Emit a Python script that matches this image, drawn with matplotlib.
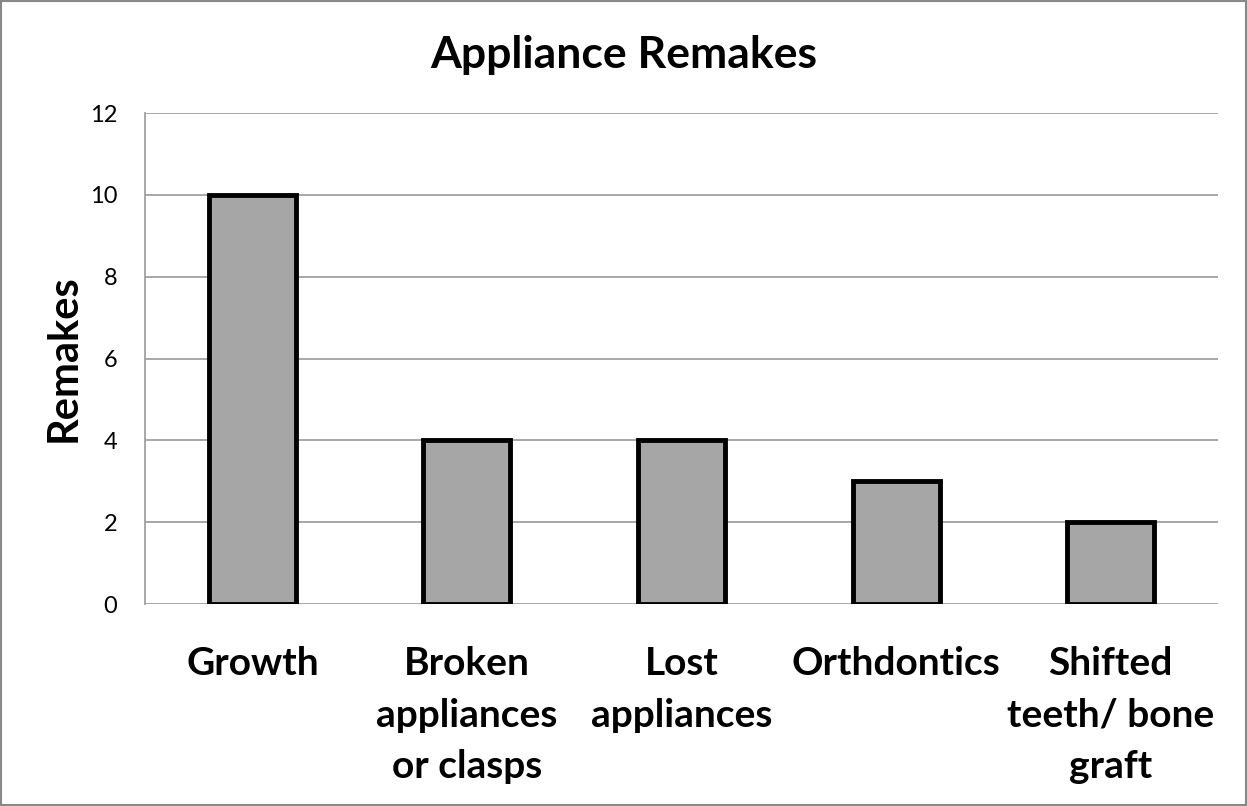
import matplotlib.pyplot as plt
from matplotlib.patches import Rectangle

# Chart data
categories = ["Growth", "Broken\nappliances\nor clasps", "Lost\nappliances",
              "Orthdontics", "Shifted\nteeth/ bone\ngraft"]
remakes = [10, 4, 4, 3, 2]
y_ticks = [0, 2, 4, 6, 8, 10, 12]

plt.rcParams['font.family'] = ['Lato', 'DejaVu Sans']

fig = plt.figure(figsize=(12.47, 8.06), dpi=100)
ax = fig.add_axes([0.1163, 0.2506, 0.8605, 0.6092])

# Bars
x = list(range(len(categories)))
ax.bar(x, remakes, width=0.405, color='#a6a6a6', edgecolor='black',
       linewidth=3.5, zorder=3)

# Axes settings
ax.set_xlim(-0.5, len(categories) - 0.5)
ax.set_ylim(0, 12)
ax.set_yticks(y_ticks)
ax.set_yticklabels([str(t) for t in y_ticks], fontsize=17)
ax.set_xticks(x)
ax.set_xticklabels(categories, fontsize=28, fontweight='bold', linespacing=1.58)
ax.tick_params(axis='both', length=0)
ax.tick_params(axis='x', pad=30)
ax.tick_params(axis='y', pad=20)

ax.grid(axis='y', color='#a0a0a0', linewidth=1.3, zorder=0)
for side in ['top', 'right', 'bottom']:
    ax.spines[side].set_visible(False)
ax.spines['left'].set_color('#a0a0a0')
ax.spines['left'].set_linewidth(1.3)

ax.set_ylabel("Remakes", fontsize=30, fontweight='bold', labelpad=5)
fig.text(0.5, 0.932, "Appliance Remakes", ha='center', va='center',
         fontsize=32, fontweight='bold')

# Outer border of the chart area
fig.patches.append(Rectangle((0.001, 0.001), 0.998, 0.998, transform=fig.transFigure,
                             fill=False, edgecolor='#888888', linewidth=1.5))

fig.savefig("out.png", dpi=100)
